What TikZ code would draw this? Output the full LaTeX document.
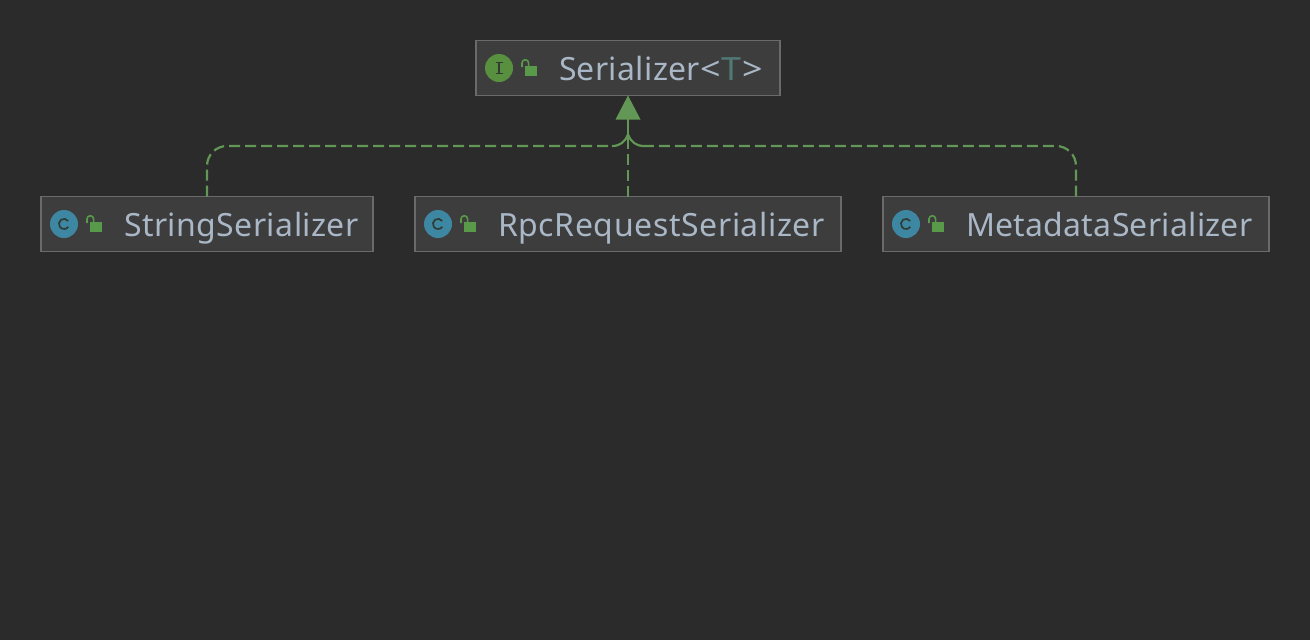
\documentclass[tikz,border=0pt]{standalone}
\usepackage{fontspec}
\setmainfont{Noto Sans}
\usetikzlibrary{calc}
\definecolor{bgc}{HTML}{2B2B2B}
\definecolor{boxc}{HTML}{3D3D3D}
\definecolor{boxl}{HTML}{6A6A6A}
\definecolor{txtc}{HTML}{A9B7C6}
\definecolor{tpar}{HTML}{507874}
\definecolor{grn}{HTML}{629755}
\definecolor{lockc}{HTML}{589A4A}
\definecolor{icnI}{HTML}{59903F}
\definecolor{icnC}{HTML}{3D87A3}
\definecolor{glyph}{HTML}{2F3B33}
\tikzset{
  x=1pt,y=-1pt,
  umlbox/.style={draw=boxl,fill=boxc,line width=1.2pt,minimum height=55pt,inner sep=0pt,outer sep=0pt},
  umltext/.style={text=txtc,font=\fontsize{32}{36}\selectfont,anchor=base west,inner sep=0pt,outer sep=0pt},
  badge/.style={circle,minimum size=28pt,inner sep=0pt,outer sep=0pt},
  badgeI/.style={badge,fill=icnI},
  badgeC/.style={badge,fill=icnC},
  link/.style={draw=grn,line width=2.2pt,dash pattern=on 11pt off 5pt},
  solidlink/.style={draw=grn,line width=2.2pt},
  tiphead/.style={fill=grn,draw=none},
}
\newcommand{\lockicon}[1]{%
  \fill[lockc] ($(#1)+(3,0)$) rectangle ($(#1)+(15,10)$);
  \draw[lockc,line width=1.6pt] ($(#1)+(0,1)$) -- ($(#1)+(0,-3)$) arc[start angle=180,end angle=0,radius=3.3pt] -- ($(#1)+(6.6,0)$);
}
\begin{document}
\begin{tikzpicture}
\useasboundingbox (0,0) rectangle (1310,640);
\fill[bgc] (0,0) rectangle (1310,640);

% boxes
\node[umlbox,minimum width=304pt] (ser) at (628,68) {};
\node[umlbox,minimum width=332pt] (str) at (207,224) {};
\node[umlbox,minimum width=426pt] (rpc) at (628,224) {};
\node[umlbox,minimum width=386pt] (meta) at (1076,224) {};

% connectors
\coordinate (strb) at (ser.south |- 0,146);
\coordinate (jn) at ($(ser.south)+(0,39)$);
\draw[link,rounded corners=20pt] (str.north) -- (str.north |- strb) -- ($(strb)+(-16,0)$);
\draw[link,rounded corners=20pt] (meta.north) -- (meta.north |- strb) -- ($(strb)+(16,0)$);
\draw[solidlink] ($(strb)+(-16,0)$) .. controls ($(strb)+(-8,0)$) and ($(strb)+(-3,-4)$) .. (jn);
\draw[solidlink] ($(strb)+(16,0)$) .. controls ($(strb)+(8,0)$) and ($(strb)+(3,-4)$) .. (jn);
\draw[solidlink] ($(ser.south)+(0,20)$) -- (jn);
\draw[link] (rpc.north) -- (jn);
\fill[tiphead] (ser.south) -- ($(ser.south)+(12.5,24)$) -- ($(ser.south)+(-12.5,24)$) -- cycle;

% icons
\node[badgeI] (iI) at (499,68) {};
\node[badgeC] (iS) at (64,224) {};
\node[badgeC] (iR) at (438,224) {};
\node[badgeC] (iM) at (906,224) {};
\draw[glyph,line width=1.4pt] (495.5,62.5) -- (502.5,62.5) (499,62.5) -- (499,73.5) (495.5,73.5) -- (502.5,73.5);
\foreach \n in {iS,iR,iM}{
  \draw[glyph,line width=1.7pt] ($(\n)+(4.2,-3)$) arc[start angle=35,end angle=325,radius=5.1pt];
}
\coordinate (l1) at (522,66);
\coordinate (l2) at (87,222);
\coordinate (l3) at (461,222);
\coordinate (l4) at (929,222);
\lockicon{l1}\lockicon{l2}\lockicon{l3}\lockicon{l4}

% labels
\node[umltext] (tser) at (559,80) {{\addfontfeature{LetterSpace=1.1}Serializer}\scalebox{1.12}[1]{<}\kern1pt\scalebox{1.12}[1]{\textcolor{tpar}{T}}\kern1pt\scalebox{1.12}[1]{>}};
\node[umltext] (tstr) at (124,236) {\addfontfeature{LetterSpace=1.4}StringSerializer};
\node[umltext] (trpc) at (498,236) {\addfontfeature{LetterSpace=1.9}RpcRequestSerializer};
\node[umltext] (tmeta) at (966,236) {\addfontfeature{LetterSpace=0.9}MetadataSerializer};
\end{tikzpicture}
\end{document}
